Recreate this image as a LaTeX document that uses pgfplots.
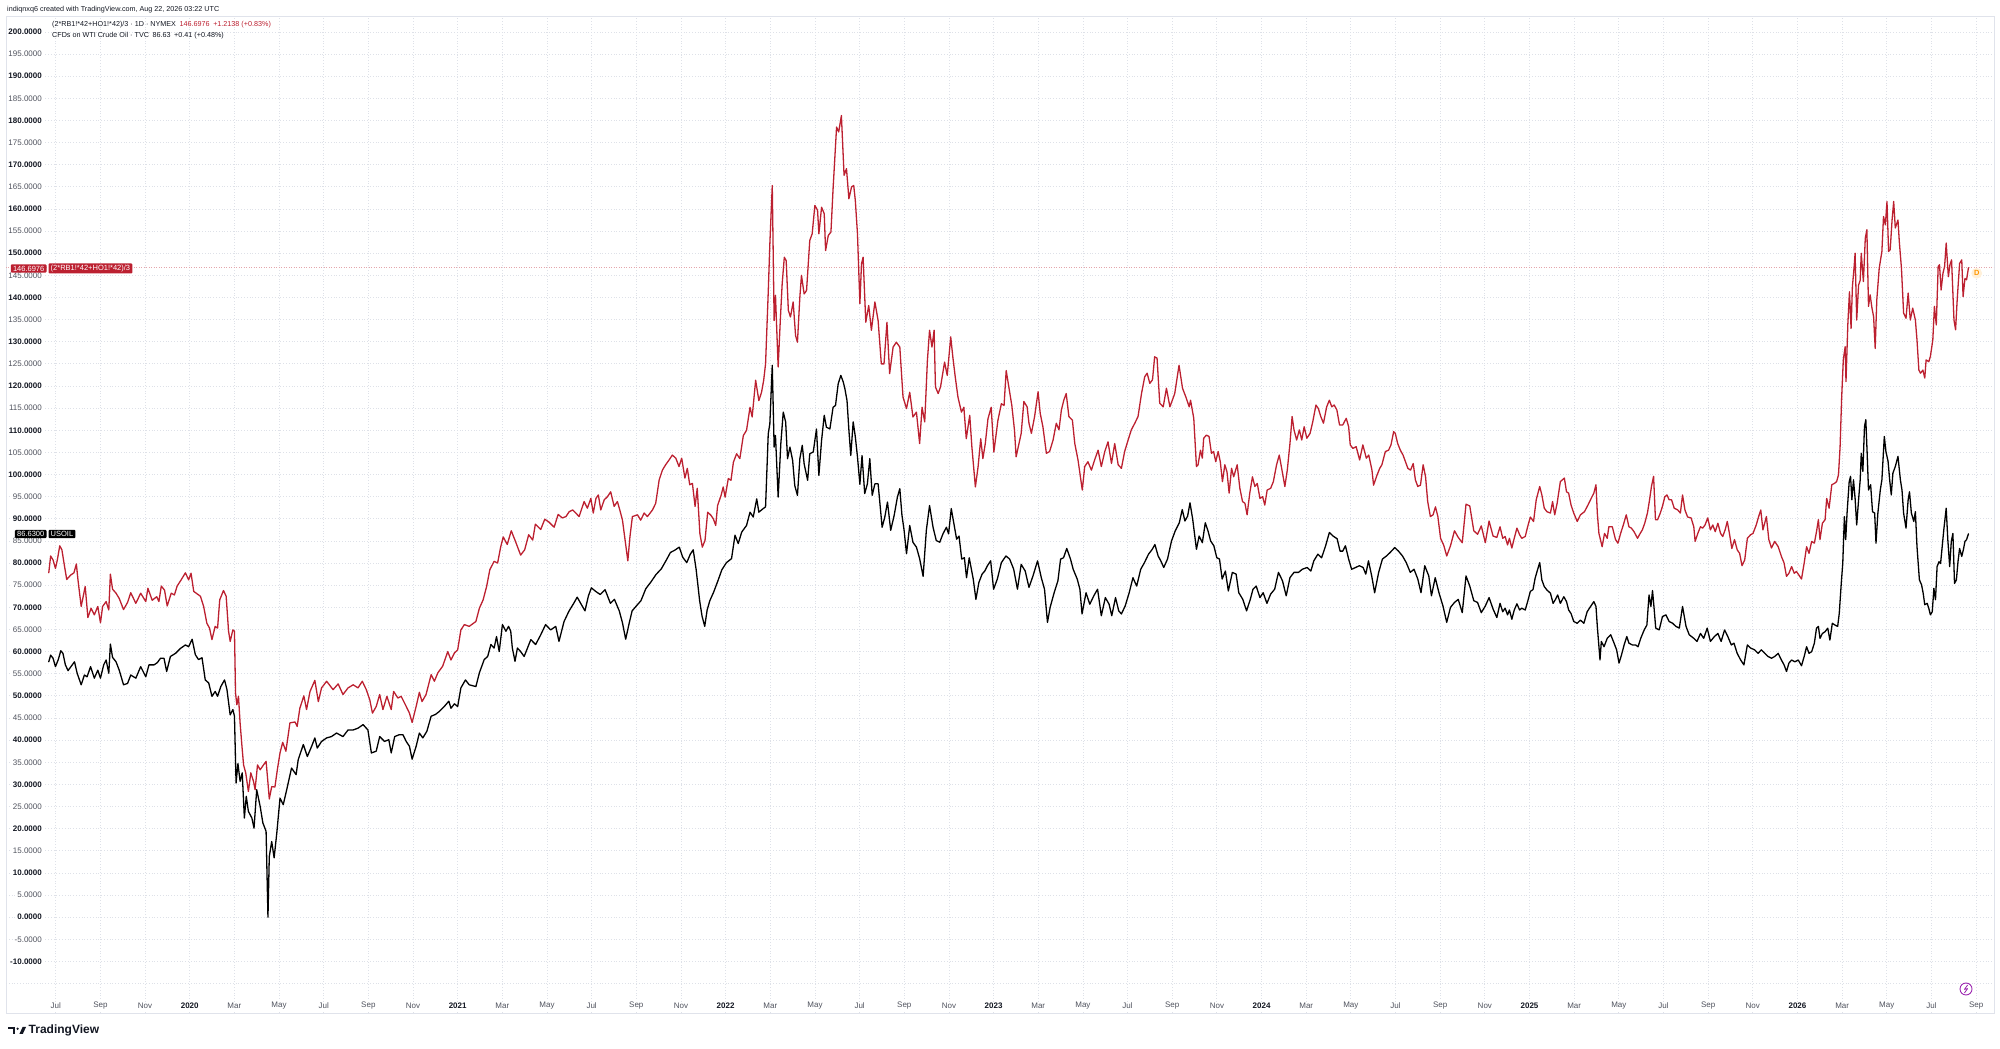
\documentclass[border=0pt]{standalone}
\usepackage{fontspec}
\setmainfont{Liberation Sans}
\usepackage{pgfplots}
\pgfplotsset{compat=1.18}
\definecolor{tvred}{RGB}{188,32,48}
\definecolor{tvdark}{RGB}{19,23,34}
\definecolor{tvgray}{RGB}{80,83,94}
\definecolor{tvgrid}{RGB}{222,225,232}
\definecolor{tvframe}{RGB}{224,227,235}
\definecolor{tvpurple}{RGB}{156,39,176}
\definecolor{tvorange}{RGB}{255,152,0}
\newcommand{\yr}[1]{\textbf{\textcolor{tvdark}{#1}}}
\begin{document}
\begin{tikzpicture}[x=1pt,y=1pt]
\begin{axis}[
  at={(6pt,36pt)}, anchor=south west,
  scale only axis, width=1988pt, height=997pt,
  xmin=2019.3144, xmax=2026.7336,
  ymin=-21.65, ymax=203.6,
  axis line style={tvframe, line width=0.8pt},
  major tick length=0pt,
  grid=major,
  major grid style={tvgrid, dash pattern=on 0.8pt off 2pt, line width=0.8pt},
  xtick={2019.5,2019.6667,2019.8333,2020,2020.1667,2020.3333,2020.5,2020.6667,2020.8333,2021,2021.1667,2021.3333,2021.5,2021.6667,2021.8333,2022,2022.1667,2022.3333,2022.5,2022.6667,2022.8333,2023,2023.1667,2023.3333,2023.5,2023.6667,2023.8333,2024,2024.1667,2024.3333,2024.5,2024.6667,2024.8333,2025,2025.1667,2025.3333,2025.5,2025.6667,2025.8333,2026,2026.1667,2026.3333,2026.5,2026.6667},
  xticklabels={Jul,Sep,Nov,\yr{2020},Mar,May,Jul,Sep,Nov,\yr{2021},Mar,May,Jul,Sep,Nov,\yr{2022},Mar,May,Jul,Sep,Nov,\yr{2023},Mar,May,Jul,Sep,Nov,\yr{2024},Mar,May,Jul,Sep,Nov,\yr{2025},Mar,May,Jul,Sep,Nov,\yr{2026},Mar,May,Jul,Sep},
  xticklabel style={anchor=center, yshift=7pt, font=\fontsize{8}{9}\selectfont, text=tvgray, inner sep=1pt, fill=white},
  ytick={-10,0,...,200},
  yticklabel style={anchor=east, xshift=37pt, font=\fontsize{8}{9}\selectfont\bfseries, text=tvdark, inner sep=1pt, fill=white},
  extra y ticks={-5,5,...,195},
  extra y tick style={grid=major, yticklabel style={font=\fontsize{8}{9}\selectfont, text=tvgray}},
  /pgf/number format/fixed,
  /pgf/number format/fixed zerofill,
  /pgf/number format/precision=4,
  /pgf/number format/1000 sep={},
  /pgf/number format/assume math mode=true,
]
\draw[tvgrid, dash pattern=on 0.8pt off 2pt, line width=0.8pt] (axis cs:2019.3144,-15) -- (axis cs:2026.7336,-15);
\draw[tvred!40, dash pattern=on 1pt off 1.5pt, line width=0.8pt] (axis cs:2019.3144,146.6976) -- (axis cs:2026.7336,146.6976);

\addplot[tvred, line width=1.3pt, line join=round, line cap=round] coordinates {
(2019.474,77.8)(2019.481,81.6)(2019.490,80.7)(2019.499,78.8)(2019.506,80.7)(2019.515,83.9)(2019.523,83.0)(2019.533,79.2)(2019.541,76.3)(2019.556,77.3)(2019.568,77.8)(2019.577,79.8)(2019.583,76.2)(2019.595,70.2)(2019.610,74.7)(2019.620,67.7)(2019.632,69.8)(2019.644,68.3)(2019.657,70.2)(2019.667,66.5)(2019.675,70.2)(2019.688,71.3)(2019.698,69.4)(2019.704,77.5)(2019.712,74.1)(2019.725,73.2)(2019.737,72.0)(2019.753,69.5)(2019.768,71.1)(2019.780,73.3)(2019.799,70.9)(2019.817,73.2)(2019.836,71.3)(2019.844,74.3)(2019.860,71.6)(2019.877,72.4)(2019.885,71.3)(2019.894,74.8)(2019.906,73.9)(2019.916,70.3)(2019.931,73.2)(2019.943,72.8)(2019.953,74.8)(2019.968,76.2)(2019.984,77.8)(2019.996,76.2)
(2020.005,77.7)(2020.015,73.6)(2020.040,72.5)(2020.052,70.2)(2020.064,66.4)(2020.074,65.3)(2020.083,62.7)(2020.095,65.7)(2020.104,65.3)(2020.112,71.7)(2020.126,73.8)(2020.136,72.5)(2020.145,64.6)(2020.151,62.3)(2020.161,64.9)(2020.167,64.6)(2020.171,50.6)(2020.176,48.0)(2020.182,49.9)(2020.188,43.9)(2020.195,38.6)(2020.201,34.4)(2020.209,32.6)(2020.219,28.4)(2020.228,32.6)(2020.238,30.7)(2020.244,28.8)(2020.253,34.4)(2020.263,33.3)(2020.273,34.2)(2020.285,35.2)(2020.290,31.8)(2020.297,26.7)(2020.306,29.5)(2020.318,29.4)(2020.327,33.3)(2020.337,37.1)(2020.347,39.5)(2020.359,37.5)(2020.374,43.9)(2020.393,44.1)(2020.401,43.1)(2020.411,47.2)(2020.426,50.0)(2020.436,46.9)(2020.449,51.0)(2020.467,53.5)(2020.480,48.7)(2020.492,51.8)(2020.511,53.3)(2020.535,51.4)(2020.554,52.7)(2020.572,50.3)(2020.591,51.8)(2020.610,52.5)(2020.628,51.8)(2020.644,53.3)(2020.659,51.4)(2020.672,49.1)(2020.682,46.1)(2020.696,47.6)(2020.709,50.3)(2020.721,46.9)(2020.736,49.9)(2020.752,46.9)(2020.761,51.0)(2020.777,49.5)(2020.789,49.9)(2020.808,47.6)(2020.820,46.1)(2020.830,44.0)(2020.845,47.6)(2020.857,50.8)(2020.867,48.7)(2020.882,50.3)(2020.901,54.8)(2020.913,53.3)(2020.926,55.2)(2020.944,56.7)(2020.963,60.0)(2020.975,58.1)(2020.988,59.7)(2021.000,60.4)(2021.012,64.9)(2021.025,66.1)(2021.043,65.7)(2021.068,66.8)(2021.081,69.8)(2021.095,71.7)(2021.108,74.7)(2021.120,78.5)(2021.136,80.4)(2021.149,80.0)
(2021.160,83.5)(2021.170,85.9)(2021.185,84.2)(2021.200,87.3)(2021.215,85.0)(2021.235,81.8)(2021.250,83.0)(2021.265,86.4)(2021.280,85.2)(2021.290,88.8)(2021.310,87.6)(2021.325,89.9)(2021.340,89.3)(2021.360,88.1)(2021.375,91.0)(2021.390,90.2)
(2021.404,90.5)(2021.416,91.6)(2021.429,92.0)(2021.441,91.3)(2021.453,90.5)(2021.472,93.9)(2021.484,92.4)(2021.497,94.6)(2021.506,91.3)(2021.516,94.6)(2021.525,95.4)(2021.534,92.0)(2021.547,94.3)(2021.559,95.0)(2021.571,96.1)(2021.584,92.8)(2021.596,93.9)(2021.605,92.0)(2021.615,89.7)(2021.635,80.5)(2021.643,86.0)(2021.652,90.5)(2021.671,90.9)(2021.683,89.7)(2021.696,91.3)(2021.708,90.5)(2021.727,92.0)(2021.739,93.5)(2021.752,98.8)(2021.764,101.0)(2021.776,102.2)(2021.789,103.3)(2021.801,104.4)(2021.814,103.7)(2021.826,101.8)(2021.836,103.7)(2021.848,99.2)(2021.857,101.4)(2021.866,97.7)(2021.876,98.0)(2021.886,92.8)(2021.894,96.9)(2021.901,89.7)
(2021.904,86.6)(2021.913,83.6)(2021.923,85.1)(2021.933,91.5)(2021.945,90.8)(2021.954,90.0)(2021.963,88.5)(2021.970,93.0)(2021.983,95.3)(2021.991,97.2)(2021.998,94.9)(2022.010,99.1)(2022.020,98.7)(2022.029,102.8)(2022.041,104.7)(2022.053,103.6)(2022.066,108.8)(2022.078,110.0)(2022.091,115.2)(2022.099,113.0)(2022.112,121.3)(2022.124,116.7)(2022.134,118.6)(2022.142,121.3)(2022.149,125.0)(2022.159,141.2)(2022.165,152.1)(2022.174,165.3)(2022.181,134.8)(2022.186,140.5)(2022.196,124.3)(2022.204,134.8)(2022.211,143.1)(2022.219,149.1)(2022.226,148.3)(2022.234,137.1)(2022.242,135.6)(2022.252,139.0)(2022.261,131.4)(2022.268,129.9)(2022.277,140.1)(2022.283,145.0)(2022.293,140.8)(2022.302,141.6)(2022.314,152.9)(2022.323,154.4)(2022.333,160.8)(2022.343,159.7)(2022.348,154.4)(2022.358,160.4)(2022.368,158.9)(2022.373,150.6)(2022.383,154.0)(2022.393,154.8)(2022.401,164.6)(2022.414,178.5)(2022.422,177.4)(2022.432,181.1)(2022.442,167.6)(2022.451,169.1)(2022.460,162.3)(2022.470,165.0)(2022.478,165.3)(2022.484,161.9)(2022.492,154.4)(2022.501,138.6)(2022.507,147.6)(2022.513,149.1)(2022.523,134.4)(2022.534,138.2)(2022.544,132.6)(2022.557,139.0)(2022.569,134.8)(2022.581,125.0)(2022.591,125.0)(2022.602,134.4)(2022.612,122.8)(2022.625,128.8)(2022.637,129.9)(2022.650,128.8)(2022.662,117.5)(2022.675,114.9)(2022.687,118.6)(2022.699,113.0)(2022.712,114.1)(2022.724,107.0)(2022.733,115.2)(2022.743,111.9)(2022.753,125.8)(2022.761,132.6)(2022.770,128.8)(2022.778,132.6)(2022.783,119.8)(2022.793,118.3)(2022.802,119.8)(2022.817,125.4)(2022.827,122.4)(2022.840,131.1)(2022.848,126.5)(2022.857,122.0)(2022.867,117.5)(2022.880,114.1)(2022.889,115.2)(2022.898,108.1)(2022.911,113.4)(2022.919,106.2)(2022.932,97.2)(2022.942,101.7)(2022.952,108.1)(2022.960,103.6)(2022.969,107.0)(2022.979,112.6)(2022.991,115.2)(2023.001,105.1)(2023.016,112.2)(2023.029,116.0)(2023.039,115.6)(2023.047,123.5)(2023.060,118.6)(2023.068,115.6)(2023.078,110.0)(2023.084,104.0)
(2023.103,109.3)(2023.113,116.5)(2023.125,115.3)(2023.132,111.6)(2023.141,109.3)(2023.153,113.1)(2023.166,118.7)(2023.174,113.8)(2023.184,110.8)(2023.197,104.8)(2023.209,105.2)(2023.222,107.8)(2023.234,111.6)(2023.244,110.1)(2023.253,114.6)(2023.262,116.8)(2023.271,118.3)(2023.281,113.1)(2023.294,112.3)(2023.303,107.0)(2023.315,103.3)(2023.331,96.5)(2023.340,101.8)(2023.352,102.9)(2023.365,101.0)(2023.377,103.3)(2023.390,105.5)(2023.402,101.8)(2023.415,105.2)(2023.427,107.4)(2023.440,102.5)(2023.452,107.0)(2023.465,102.2)(2023.477,101.4)(2023.489,105.2)(2023.502,107.8)(2023.514,110.1)(2023.527,111.6)(2023.539,113.1)(2023.552,118.3)(2023.564,122.1)(2023.573,122.9)(2023.583,120.6)(2023.593,121.4)(2023.601,126.6)(2023.610,126.3)(2023.620,116.1)(2023.633,115.3)(2023.645,119.5)(2023.658,115.3)(2023.676,118.3)(2023.692,124.7)(2023.705,119.5)(2023.717,117.6)(2023.730,115.3)
(2023.735,116.8)(2023.747,112.7)(2023.757,101.8)(2023.763,102.2)(2023.772,105.5)(2023.779,103.7)(2023.784,108.2)(2023.794,108.9)(2023.804,108.6)(2023.813,104.8)(2023.821,105.2)(2023.829,102.9)(2023.838,105.2)(2023.846,102.9)(2023.854,98.4)(2023.863,102.2)(2023.871,100.6)(2023.879,95.8)(2023.888,101.4)(2023.896,99.5)(2023.909,102.2)(2023.919,96.9)(2023.929,93.9)(2023.938,93.5)(2023.946,90.9)(2023.956,95.8)(2023.966,99.5)(2023.975,97.3)(2023.984,98.0)(2023.994,94.6)(2024.004,95.0)(2024.012,93.1)(2024.021,96.5)(2024.034,96.9)(2024.044,98.4)(2024.056,102.2)(2024.066,104.4)(2024.075,101.4)(2024.087,97.3)(2024.096,101.0)(2024.106,107.0)(2024.114,113.1)(2024.121,110.1)(2024.131,107.8)(2024.141,110.1)(2024.150,107.8)(2024.159,110.8)(2024.169,108.2)(2024.181,109.3)(2024.191,111.9)(2024.203,115.7)(2024.212,114.9)(2024.221,113.1)(2024.231,111.6)(2024.243,115.3)(2024.253,116.8)(2024.262,115.3)(2024.271,115.7)(2024.281,114.6)(2024.291,111.2)(2024.303,111.2)(2024.316,112.7)(2024.325,110.8)(2024.331,106.7)(2024.341,105.9)(2024.353,106.3)(2024.366,103.3)(2024.378,106.7)(2024.391,103.7)(2024.400,104.4)(2024.412,101.0)(2024.418,97.6)(2024.431,99.9)(2024.441,101.4)(2024.449,102.2)(2024.462,105.2)(2024.474,105.5)(2024.483,106.7)(2024.493,109.7)(2024.499,109.3)(2024.508,107.0)(2024.518,105.5)(2024.528,104.4)(2024.537,102.9)(2024.546,101.4)(2024.556,101.0)(2024.566,102.5)(2024.574,98.8)(2024.583,97.3)(2024.593,97.6)(2024.603,102.2)(2024.612,99.5)(2024.620,93.9)(2024.630,90.5)(2024.640,90.9)(2024.649,92.7)(2024.658,90.5)(2024.668,85.6)(2024.680,84.0)
(2024.691,81.6)(2024.705,83.9)(2024.720,87.3)(2024.734,85.8)(2024.749,84.6)(2024.763,93.3)(2024.777,92.9)(2024.792,87.3)(2024.806,86.5)(2024.820,88.4)(2024.835,84.6)(2024.849,89.5)(2024.864,86.1)(2024.878,85.8)
(2024.890,88.2)(2024.900,85.6)(2024.909,86.0)(2024.918,84.1)(2024.925,85.6)(2024.934,83.4)(2024.943,85.6)(2024.953,87.9)(2024.963,86.4)(2024.971,85.6)(2024.984,86.0)(2024.993,88.2)(2025.003,90.4)(2025.015,89.4)(2025.025,94.3)(2025.038,97.3)(2025.046,95.4)(2025.055,92.4)(2025.065,91.6)(2025.078,91.3)(2025.086,93.9)(2025.094,90.9)(2025.103,93.5)(2025.115,98.4)(2025.130,99.2)(2025.138,96.1)(2025.146,95.8)(2025.155,93.1)(2025.165,91.3)(2025.178,89.4)(2025.190,90.9)(2025.205,91.6)(2025.218,93.1)(2025.230,94.6)(2025.240,95.8)(2025.248,97.7)(2025.253,91.3)(2025.259,86.7)(2025.271,83.7)(2025.280,86.7)(2025.290,85.6)(2025.296,88.2)(2025.309,88.2)(2025.321,85.3)(2025.330,84.5)(2025.340,86.7)(2025.350,88.6)(2025.361,90.9)(2025.371,88.2)(2025.380,87.9)(2025.390,87.1)(2025.403,85.6)(2025.413,86.7)(2025.421,87.5)(2025.430,89.0)(2025.440,91.3)(2025.448,94.3)(2025.455,97.3)(2025.463,99.6)(2025.470,89.8)(2025.478,89.8)(2025.488,91.3)(2025.496,92.8)(2025.505,95.0)(2025.513,95.4)(2025.521,94.3)(2025.530,94.3)(2025.540,92.4)(2025.553,92.0)(2025.563,91.3)(2025.571,95.4)(2025.580,92.0)(2025.590,90.4)(2025.603,90.2)(2025.613,88.2)(2025.618,84.9)(2025.628,86.7)(2025.638,88.2)(2025.646,87.9)(2025.655,88.6)(2025.665,90.2)(2025.675,87.5)(2025.684,88.6)(2025.693,87.1)(2025.703,89.0)(2025.713,86.7)(2025.721,86.0)(2025.730,87.5)(2025.738,89.4)(2025.746,86.7)(2025.755,83.3)(2025.765,85.3)(2025.775,83.0)(2025.784,82.2)(2025.793,79.4)(2025.803,80.7)(2025.813,85.6)(2025.825,86.4)(2025.834,86.7)(2025.846,88.6)(2025.855,90.5)(2025.863,92.0)(2025.871,87.5)(2025.884,90.5)(2025.893,85.3)(2025.903,83.4)(2025.915,84.9)(2025.928,83.7)(2025.940,81.5)(2025.950,80.0)(2025.959,77.0)(2025.968,77.7)(2025.978,79.2)(2025.988,77.7)(2025.996,78.1)(2026.005,77.3)(2026.015,76.4)(2026.025,80.0)(2026.034,83.7)(2026.043,82.2)(2026.053,84.9)(2026.063,84.5)(2026.071,87.1)(2026.078,89.8)(2026.084,85.3)(2026.093,89.0)(2026.103,89.8)(2026.109,94.6)(2026.118,92.4)(2026.128,97.7)(2026.138,98.0)(2026.146,98.4)(2026.153,99.9)(2026.159,106.3)(2026.165,117.6)(2026.171,125.9)(2026.178,128.9)(2026.181,121.0)(2026.188,134.1)(2026.194,141.3)(2026.200,133.0)(2026.205,142.5)(2026.211,146.6)(2026.215,150.0)(2026.221,134.9)(2026.228,142.8)(2026.234,143.9)(2026.238,150.0)(2026.246,143.6)(2026.253,153.4)(2026.259,155.3)(2026.265,138.0)(2026.271,140.6)(2026.278,137.6)(2026.284,135.7)(2026.290,128.5)(2026.296,139.5)(2026.305,146.6)(2026.315,150.4)(2026.321,158.3)(2026.328,156.4)(2026.334,161.7)(2026.340,150.4)(2026.346,150.8)(2026.353,157.5)(2026.359,161.7)(2026.365,155.7)(2026.375,157.5)(2026.380,152.6)(2026.388,146.6)(2026.396,136.5)(2026.405,135.3)(2026.413,141.0)(2026.421,134.9)(2026.430,137.6)(2026.440,134.9)(2026.446,130.4)(2026.453,123.6)(2026.459,122.9)(2026.468,123.6)(2026.475,121.8)(2026.480,125.9)(2026.490,125.5)(2026.496,126.7)(2026.505,130.4)(2026.511,138.0)(2026.518,133.8)(2026.525,147.0)(2026.530,147.4)(2026.536,141.7)(2026.543,145.5)(2026.549,147.0)(2026.555,152.3)(2026.563,144.7)(2026.569,147.4)(2026.575,148.5)(2026.584,134.9)(2026.590,132.7)(2026.596,139.5)(2026.605,147.7)(2026.613,148.5)(2026.618,140.2)(2026.625,144.3)(2026.631,144.0)(2026.638,146.7)
};

\addplot[black, line width=1.3pt, line join=round, line cap=round] coordinates {
(2019.474,57.7)(2019.481,59.2)(2019.490,58.5)(2019.499,56.6)(2019.509,58.1)(2019.519,60.2)(2019.527,59.6)(2019.536,57.0)(2019.546,55.7)(2019.558,56.7)(2019.570,57.7)(2019.580,55.1)(2019.595,52.5)(2019.607,54.7)(2019.617,54.3)(2019.630,56.6)(2019.644,54.0)(2019.657,55.8)(2019.667,54.0)(2019.679,57.0)(2019.688,58.1)(2019.698,55.1)(2019.704,61.7)(2019.712,58.7)(2019.725,57.7)(2019.737,55.8)(2019.753,52.5)(2019.768,52.8)(2019.780,54.7)(2019.799,54.0)(2019.817,56.6)(2019.836,54.3)(2019.848,57.0)(2019.867,57.0)(2019.879,57.5)(2019.891,58.5)(2019.904,58.5)(2019.914,55.5)(2019.928,58.9)(2019.947,59.6)(2019.965,60.7)(2019.984,61.5)(2019.996,61.1)
(2020.009,62.8)(2020.021,59.3)(2020.033,58.2)(2020.046,58.6)(2020.058,53.6)(2020.071,52.9)(2020.083,49.9)(2020.095,51.0)(2020.104,49.9)(2020.116,52.1)(2020.130,53.6)(2020.139,51.4)(2020.151,45.7)(2020.161,46.9)(2020.167,45.4)(2020.173,30.3)(2020.180,34.7)(2020.188,30.7)(2020.196,32.6)(2020.204,22.4)(2020.211,27.3)(2020.219,23.9)(2020.232,22.4)(2020.240,20.1)(2020.250,28.8)(2020.263,25.0)(2020.273,21.3)(2020.285,19.4)(2020.292,0.0)(2020.297,13.7)(2020.306,17.1)(2020.315,13.4)(2020.325,19.0)(2020.337,26.9)(2020.349,25.4)(2020.362,28.8)(2020.380,33.7)(2020.397,32.2)(2020.405,35.6)(2020.424,39.0)(2020.439,36.3)(2020.455,38.6)(2020.467,40.5)(2020.476,38.2)(2020.492,39.7)(2020.511,40.5)(2020.529,40.8)(2020.548,41.6)(2020.572,40.8)(2020.591,42.3)(2020.610,42.3)(2020.628,42.7)(2020.647,43.5)(2020.665,42.3)(2020.678,37.1)(2020.696,37.5)(2020.709,40.8)(2020.727,39.7)(2020.743,40.1)(2020.752,37.1)(2020.765,40.8)(2020.781,41.2)(2020.796,41.2)(2020.808,39.7)(2020.820,38.6)(2020.830,35.7)(2020.845,38.6)(2020.857,41.6)(2020.870,40.5)(2020.885,42.0)(2020.901,45.4)(2020.917,45.8)(2020.932,46.5)(2020.950,47.6)(2020.967,48.8)(2020.975,47.2)(2020.988,48.2)(2021.000,47.6)(2021.012,51.8)(2021.029,53.6)(2021.043,52.5)(2021.068,52.1)(2021.081,55.2)(2021.099,58.2)(2021.112,58.9)(2021.124,61.6)(2021.136,60.8)(2021.145,63.4)(2021.155,60.0)(2021.167,66.1)(2021.180,64.6)(2021.190,65.7)(2021.198,64.6)(2021.204,60.8)(2021.214,57.8)(2021.223,60.8)(2021.235,60.0)(2021.248,58.9)(2021.273,62.7)(2021.291,61.6)(2021.310,63.8)(2021.328,66.1)(2021.347,64.9)(2021.366,65.7)(2021.378,62.3)(2021.397,66.8)(2021.415,69.1)(2021.434,71.0)(2021.446,72.3)
(2021.460,70.8)(2021.475,69.2)(2021.488,72.6)(2021.499,74.4)(2021.515,73.6)(2021.532,72.9)(2021.550,74.0)(2021.570,70.9)(2021.585,71.8)(2021.603,69.2)(2021.615,66.5)(2021.627,62.8)(2021.640,66.4)(2021.651,69.2)(2021.668,70.4)(2021.684,71.5)(2021.702,74.2)(2021.722,75.8)(2021.740,77.4)(2021.760,78.7)(2021.778,80.6)(2021.794,82.4)(2021.810,82.9)(2021.827,83.6)(2021.840,81.3)(2021.855,80.1)(2021.868,82.0)(2021.879,83.0)(2021.890,78.5)(2021.903,71.5)(2021.912,68.0)(2021.922,65.7)(2021.931,69.4)(2021.941,71.5)(2021.955,73.4)(2021.970,75.8)(2021.986,78.5)(2022.003,80.1)
(2022.022,81.0)(2022.035,86.3)(2022.047,84.4)(2022.060,87.0)(2022.078,88.5)(2022.091,91.5)(2022.103,90.4)(2022.116,94.5)(2022.124,91.5)(2022.140,92.3)(2022.149,92.7)(2022.159,109.2)(2022.165,111.5)(2022.174,124.7)(2022.181,106.2)(2022.186,108.8)(2022.196,94.9)(2022.206,107.0)(2022.215,114.1)(2022.224,111.9)(2022.231,103.6)(2022.240,106.2)(2022.250,103.2)(2022.258,97.5)(2022.268,95.3)(2022.277,103.6)(2022.286,106.6)(2022.293,102.4)(2022.306,98.7)(2022.314,104.7)(2022.327,105.1)(2022.339,110.3)(2022.348,99.8)(2022.358,107.7)(2022.368,113.4)(2022.376,110.7)(2022.389,110.3)(2022.401,115.2)(2022.410,115.6)(2022.420,120.5)(2022.430,122.4)(2022.439,120.9)(2022.445,119.4)(2022.453,116.7)(2022.460,110.0)(2022.467,104.3)(2022.476,111.9)(2022.484,108.5)(2022.492,104.0)(2022.501,97.8)(2022.509,104.3)(2022.519,95.7)(2022.529,97.9)(2022.538,103.6)(2022.547,95.3)(2022.557,97.9)(2022.569,97.9)(2022.584,88.1)(2022.594,90.4)(2022.604,93.8)(2022.616,87.4)(2022.629,90.8)(2022.641,94.9)(2022.650,96.8)(2022.658,90.8)(2022.666,87.4)(2022.675,82.1)(2022.687,88.5)(2022.699,84.7)(2022.712,83.6)(2022.724,81.0)(2022.737,77.0)(2022.749,87.4)(2022.761,93.0)(2022.774,88.1)(2022.786,85.1)(2022.799,84.7)(2022.811,86.6)(2022.824,88.1)(2022.832,86.6)(2022.842,92.3)
(2022.862,85.4)(2022.871,86.1)(2022.881,80.9)(2022.891,81.2)(2022.899,76.7)(2022.909,81.2)(2022.924,76.4)(2022.934,71.8)(2022.945,75.6)(2022.957,77.5)(2022.967,78.2)(2022.977,79.4)(2022.989,80.5)(2023.000,74.1)(2023.014,76.4)(2023.029,80.1)(2023.046,81.6)(2023.060,80.9)(2023.075,78.6)(2023.089,74.1)(2023.103,79.7)(2023.118,78.2)(2023.132,74.5)(2023.147,77.1)(2023.164,80.5)(2023.178,76.7)(2023.190,74.1)(2023.201,66.6)(2023.211,70.0)(2023.226,73.3)(2023.240,76.0)(2023.250,80.9)(2023.261,81.2)(2023.273,83.3)(2023.287,80.9)(2023.297,78.6)(2023.312,76.4)(2023.322,74.1)(2023.330,68.5)(2023.345,73.3)(2023.359,70.7)(2023.374,72.6)(2023.388,74.1)(2023.402,68.1)(2023.417,72.2)(2023.431,70.7)(2023.441,68.1)(2023.455,72.2)(2023.467,69.2)(2023.477,68.5)(2023.491,70.3)(2023.506,73.3)(2023.520,76.7)(2023.534,74.8)(2023.549,78.6)(2023.563,80.1)(2023.578,82.0)(2023.592,83.1)(2023.602,84.2)(2023.614,81.6)(2023.624,80.5)(2023.635,79.0)(2023.649,80.9)(2023.664,85.0)(2023.678,87.3)(2023.693,89.1)(2023.704,92.1)(2023.714,89.5)(2023.724,90.6)(2023.733,93.6)(2023.743,89.9)(2023.757,83.1)(2023.767,86.1)(2023.779,84.6)(2023.790,89.1)(2023.800,87.3)(2023.810,85.0)(2023.822,83.9)(2023.833,81.2)(2023.843,80.9)(2023.853,76.4)(2023.865,78.2)(2023.876,73.7)(2023.891,77.9)(2023.905,77.5)(2023.915,73.3)(2023.930,71.8)(2023.944,69.2)(2023.958,71.8)(2023.968,74.1)(2023.980,74.8)(2023.994,72.2)(2024.006,73.3)(2024.020,70.9)(2024.034,73.0)(2024.049,74.1)(2024.063,77.9)(2024.078,76.0)(2024.092,72.6)(2024.106,76.7)(2024.121,77.9)(2024.138,77.9)(2024.152,78.6)(2024.170,79.0)(2024.184,78.2)(2024.195,80.5)(2024.210,82.0)(2024.224,81.2)(2024.239,83.9)(2024.253,86.9)(2024.267,86.1)(2024.282,85.5)(2024.293,82.7)(2024.303,82.7)(2024.313,83.9)(2024.325,80.9)(2024.336,78.6)(2024.351,79.0)(2024.365,79.4)(2024.379,79.0)(2024.389,77.5)(2024.399,80.5)(2024.411,77.1)(2024.422,73.3)(2024.437,77.9)(2024.451,80.9)(2024.466,81.6)(2024.480,82.4)(2024.497,83.5)(2024.511,82.7)(2024.526,81.6)(2024.540,80.1)(2024.555,77.9)(2024.569,78.6)(2024.583,76.4)(2024.595,73.3)(2024.609,79.4)(2024.624,77.1)(2024.634,72.6)(2024.648,76.7)(2024.662,73.3)(2024.677,70.3)(2024.691,66.6)(2024.705,70.0)(2024.720,71.1)(2024.734,71.8)(2024.749,68.8)(2024.763,77.1)(2024.777,74.8)(2024.792,71.5)(2024.806,71.1)(2024.820,68.8)(2024.835,70.3)(2024.849,72.2)(2024.864,69.6)(2024.878,67.7)
(2024.890,70.9)(2024.900,69.0)(2024.909,69.8)(2024.918,68.3)(2024.925,69.4)(2024.934,67.3)(2024.943,69.4)(2024.953,70.8)(2024.963,69.4)(2024.971,69.8)(2024.984,69.4)(2024.993,71.3)(2025.003,73.6)(2025.013,74.0)(2025.021,76.6)(2025.030,78.5)(2025.038,80.1)(2025.046,76.2)(2025.055,74.7)(2025.065,73.9)(2025.078,73.2)(2025.088,70.9)(2025.096,71.7)(2025.105,72.8)(2025.115,70.9)(2025.128,72.4)(2025.138,71.3)(2025.146,69.4)(2025.155,68.6)(2025.165,66.8)(2025.178,66.4)(2025.190,67.1)(2025.203,66.4)(2025.215,69.0)(2025.228,70.2)(2025.240,71.3)(2025.248,70.2)(2025.253,65.7)(2025.263,58.1)(2025.268,62.3)(2025.278,61.1)(2025.290,63.0)(2025.303,63.8)(2025.313,62.3)(2025.325,60.4)(2025.334,57.4)(2025.343,59.2)(2025.353,61.5)(2025.363,63.4)(2025.371,61.9)(2025.384,61.5)(2025.396,61.5)(2025.405,61.1)(2025.415,63.0)(2025.428,64.9)(2025.438,66.0)(2025.446,72.8)(2025.453,70.2)(2025.459,73.8)(2025.465,69.7)(2025.471,65.3)(2025.484,64.9)(2025.496,67.9)(2025.509,68.3)(2025.521,66.8)(2025.534,66.4)(2025.546,65.7)(2025.559,65.3)(2025.571,70.2)(2025.584,65.7)(2025.596,63.8)(2025.613,63.0)(2025.625,62.3)(2025.638,64.1)(2025.650,63.0)(2025.663,65.3)(2025.675,62.3)(2025.690,63.4)(2025.703,64.1)(2025.715,62.3)(2025.728,64.9)(2025.740,63.4)(2025.753,61.5)(2025.763,61.9)(2025.775,59.6)(2025.788,58.1)(2025.800,57.0)(2025.813,61.5)(2025.825,60.8)(2025.840,60.4)(2025.853,59.6)(2025.865,60.4)(2025.878,59.6)(2025.890,58.9)(2025.903,58.5)(2025.915,58.9)(2025.928,59.6)(2025.940,58.1)(2025.950,57.0)(2025.959,55.5)(2025.968,57.4)(2025.978,58.1)(2025.990,57.7)(2026.003,58.1)(2026.015,56.8)(2026.025,58.9)(2026.034,61.1)(2026.043,59.6)(2026.053,60.0)(2026.063,61.9)(2026.071,65.3)(2026.078,65.7)(2026.084,63.0)(2026.093,64.1)(2026.103,64.5)(2026.113,65.3)(2026.121,62.6)(2026.130,66.4)(2026.140,66.0)(2026.150,65.7)(2026.156,68.7)(2026.163,75.1)(2026.169,80.0)(2026.175,90.5)(2026.180,85.3)(2026.185,91.3)(2026.193,98.4)(2026.198,99.6)(2026.203,94.3)(2026.209,98.8)(2026.215,94.6)(2026.221,88.6)(2026.228,94.3)(2026.234,98.8)(2026.238,104.8)(2026.244,100.7)(2026.250,110.8)(2026.255,112.4)(2026.260,104.8)(2026.265,96.5)(2026.273,97.7)(2026.280,91.6)(2026.288,91.3)(2026.293,84.5)(2026.300,91.3)(2026.309,96.5)(2026.315,98.8)(2026.324,108.6)(2026.330,105.2)(2026.338,103.0)(2026.344,98.8)(2026.350,95.4)(2026.356,100.3)(2026.365,101.8)(2026.375,104.1)(2026.384,98.8)(2026.390,96.5)(2026.396,91.3)(2026.405,87.9)(2026.413,94.3)(2026.418,96.1)(2026.425,91.3)(2026.434,89.4)(2026.440,91.6)(2026.446,83.7)(2026.455,76.2)(2026.463,75.1)(2026.469,73.2)(2026.475,70.6)(2026.484,70.9)(2026.490,69.8)(2026.496,68.3)(2026.503,69.0)(2026.509,74.3)(2026.515,71.7)(2026.521,79.2)(2026.528,80.3)(2026.534,79.9)(2026.540,83.7)(2026.546,87.5)(2026.555,92.4)(2026.561,85.3)(2026.568,79.2)(2026.574,84.9)(2026.580,86.7)(2026.586,75.4)(2026.593,76.2)(2026.599,80.3)(2026.605,83.3)(2026.613,81.5)(2026.619,83.0)(2026.625,84.9)(2026.631,85.3)(2026.638,86.6)
};
\end{axis}

% header and legend
\node[anchor=west, inner sep=0, font=\fontsize{7.2}{8}\selectfont, text=tvdark] at (7,1039) {indiqnxq6 created with TradingView.com, Aug 22, 2026 03:22 UTC};
\node[anchor=west, inner sep=0, font=\fontsize{7.2}{8}\selectfont, text=tvdark] at (52,1024) {(2*RB1!*42+HO1!*42)/3 · 1D · NYMEX\enspace\textcolor{tvred}{146.6976\enspace +1.2138 (+0.83\%)}};
\node[anchor=west, inner sep=0, font=\fontsize{7.2}{8}\selectfont, text=tvdark] at (52,1013) {CFDs on WTI Crude Oil · TVC\enspace 86.63\enspace +0.41 (+0.48\%)};

% price tags
\node[anchor=east, fill=tvred, text=white, font=\fontsize{7.5}{8}\selectfont, inner xsep=2.2pt, inner ysep=1.5pt, rounded corners=1pt] at (46.7,780.5) {146.6976};
\node[anchor=west, fill=tvred, text=white, font=\fontsize{7.5}{8}\selectfont, inner xsep=2.2pt, inner ysep=1.5pt, rounded corners=1pt] at (48.3,780.5) {(2*RB1!*42+HO1!*42)/3};
\node[anchor=east, fill=black, text=white, font=\fontsize{7.5}{8}\selectfont, inner xsep=2.2pt, inner ysep=1.5pt, rounded corners=1pt] at (46.7,515) {86.6300};
\node[anchor=west, fill=black, text=white, font=\fontsize{7.5}{8}\selectfont, inner xsep=2.2pt, inner ysep=1.5pt, rounded corners=1pt] at (48.3,515) {USOIL};

% D marker
\node[circle, fill=tvorange!15, text=tvorange, font=\fontsize{7.5}{7.5}\selectfont\bfseries, inner sep=1.2pt] at (1976.7,775.7) {D};

% lightning icon
\draw[tvpurple, line width=0.9pt] (1966,60) circle (6);
\draw[tvpurple, line width=0.8pt, line join=round] (1967.6,64) -- (1964.4,59.6) -- (1967.6,60.4) -- (1964.4,56);

% TradingView logo
\fill[tvdark] (8,22) rectangle (15,19.6);
\fill[tvdark] (12.6,22) rectangle (15,15);
\fill[tvdark] (17.6,20.2) circle (1.3);
\fill[tvdark] (19.4,15) -- (22.6,22) -- (26,22) -- (22.8,15) -- cycle;
\node[anchor=west, inner sep=0, font=\fontsize{12}{12}\selectfont\bfseries, text=tvdark] at (28.5,18.5) {TradingView};

\pgfresetboundingbox
\useasboundingbox (0,0) rectangle (2000,1049);
\end{tikzpicture}
\end{document}
